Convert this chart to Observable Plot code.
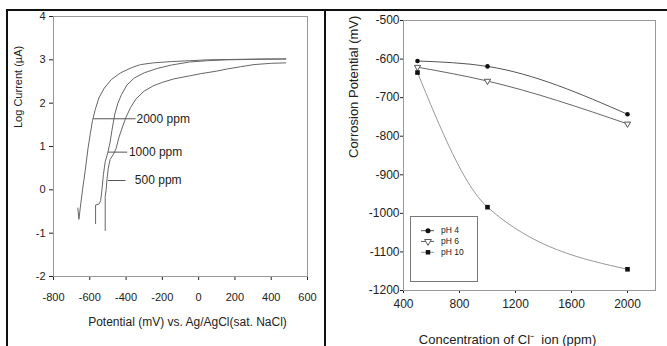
<!DOCTYPE html>
<html><head><meta charset="utf-8">
<script src="https://cdn.jsdelivr.net/npm/d3@7"></script>
<script src="https://cdn.jsdelivr.net/npm/@observablehq/plot@0.6"></script>
<style>
body{margin:0;background:#fff;font-family:Arial,"Liberation Sans",sans-serif;}
#wrap{position:relative;width:667px;height:346px;overflow:hidden;background:#fff;}
.panel{position:absolute;top:0;}
.bline{position:absolute;background:#111;z-index:5;}
#legend{position:absolute;left:410px;top:216px;width:68px;height:66px;border:1px solid #777;box-sizing:border-box;background:#fff;z-index:4;}
</style></head><body>
<div id="wrap">
 <div id="left" class="panel" style="left:0"></div>
 <div id="right" class="panel" style="left:326px"></div>
 <div id="legend"></div>
 <div class="bline" style="left:6px;top:9px;width:661px;height:2px"></div>
 <div class="bline" style="left:6px;top:9px;width:2px;height:337px"></div>
 <div class="bline" style="left:324px;top:9px;width:2px;height:337px"></div>
</div>
<script>
// ---- Left panel data: polarization curves (potential mV, log current µA)
const e2000 = [-666, -660, -652, -640, -625, -610, -597, -585, -570, -550, -520, -480, -430, -370, -320, -250, -150, -50, 50, 200, 350, 480];
const i2000 = [-0.42, -0.68, -0.40, 0.00, 0.45, 0.95, 1.30, 1.60, 1.85, 2.12, 2.35, 2.55, 2.70, 2.82, 2.89, 2.93, 2.96, 2.98, 3.00, 3.01, 3.02, 3.02];
const e1000 = [-568, -568, -550, -540, -533, -525, -515, -500, -488, -478, -462, -445, -425, -395, -355, -300, -230, -150, -50, 50, 150, 300, 480];
const i1000 = [-0.78, -0.35, -0.33, -0.25, 0.00, 0.35, 0.65, 0.87, 1.10, 1.37, 1.75, 2.00, 2.20, 2.42, 2.58, 2.70, 2.80, 2.88, 2.95, 2.98, 3.00, 3.01, 3.02];
const e500 = [-515, -515, -510, -505, -498, -488, -470, -455, -440, -420, -400, -375, -345, -300, -250, -200, -137, -50, 11, 100, 158, 230, 305, 400, 480];
const i500 = [-0.94, -0.15, 0.00, 0.25, 0.50, 0.70, 0.82, 0.95, 1.20, 1.45, 1.68, 1.90, 2.10, 2.28, 2.40, 2.48, 2.56, 2.63, 2.68, 2.74, 2.79, 2.84, 2.89, 2.92, 2.93];
const annLabels = ["2000 ppm", "1000 ppm", "500 ppm"];
const annX1 = [-581, -500, -500];
const annX2 = [-348, -394, -403];
const annTextX = [-348, -390, -357];
const annY = [1.64, 0.87, 0.215];
const xTicksL = [-800, -600, -400, -200, 0, 200, 400, 600];
const yTicksL = [-2, -1, 0, 1, 2, 3, 4];
const xLabelL = "Potential (mV) vs. Ag/AgCl(sat. NaCl)";
const yLabelL = "Log Current (µA)";

// ---- Right panel data: corrosion potential vs chloride concentration
const conc = [500, 1000, 2000];
const ph4 = [-605, -619, -743];
const ph6 = [-621, -657, -768];
const ph10 = [-635, -984, -1145];
const seriesNames = ["pH 4", "pH 6", "pH 10"];
const xTicksR = [400, 800, 1200, 1600, 2000];
const yTicksR = [-500, -600, -700, -800, -900, -1000, -1100, -1200];
const xLabelR = "Concentration of Cl\u207B  ion (ppm)";
const yLabelR = "Corrosion Potential (mV)";

const FONT = "Arial, 'Liberation Sans', sans-serif";
const fmt = d => String(d);

// build tables
const curves = [];
[[e2000, i2000, "2000 ppm"], [e1000, i1000, "1000 ppm"], [e500, i500, "500 ppm"]].forEach(([xs, ys, s]) =>
  xs.forEach((x, k) => curves.push({e: x, i: ys[k], s})));
const ann = annLabels.map((t, k) => ({t, x1: annX1[k], x2: annX2[k], tx: annTextX[k], y: annY[k]}));

const left = Plot.plot({
  width: 325, height: 346,
  marginLeft: 53, marginRight: 18, marginTop: 16, marginBottom: 70,
  style: {background: "transparent", fontFamily: FONT, fontSize: "11px", color: "#222"},
  x: {domain: [-800, 600], ticks: xTicksL, tickFormat: fmt, tickSize: 4, tickPadding: 13, label: null},
  y: {domain: [-2, 4], ticks: yTicksL, tickFormat: fmt, tickSize: 4, tickPadding: 4, label: null},
  marks: [
    Plot.frame({stroke: "#999"}),
    Plot.line(curves, {x: "e", y: "i", z: "s", stroke: "#666", strokeWidth: 1}),
    Plot.link(ann, {x1: "x1", x2: "x2", y1: "y", y2: "y", stroke: "#555", strokeWidth: 1}),
    Plot.text(ann, {x: "tx", y: "y", text: "t", textAnchor: "start", dx: 1, fontSize: 12, fill: "#222"}),
    Plot.text([yLabelL], {text: d => d, frameAnchor: "left", rotate: -90, dx: -35, dy: -18.5, fontSize: 11, fill: "#222"}),
    Plot.text([xLabelL], {text: d => d, frameAnchor: "bottom", dx: 7, dy: 49, fontSize: 12, fill: "#222"})
  ]
});
document.getElementById("left").append(left);

const pts = [];
[[ph4, "pH 4"], [ph6, "pH 6"], [ph10, "pH 10"]].forEach(([vals, s]) =>
  vals.forEach((v, k) => pts.push({c: conc[k], v, s})));

const right = Plot.plot({
  width: 341, height: 346,
  marginLeft: 77, marginRight: 12, marginTop: 20, marginBottom: 56,
  style: {background: "transparent", fontFamily: FONT, fontSize: "12px", color: "#222"},
  x: {domain: [400, 2200], ticks: xTicksR, tickFormat: fmt, tickSize: 3, tickPadding: 6, label: null},
  y: {domain: [-1200, -500], ticks: yTicksR, tickFormat: fmt, tickSize: 3, tickPadding: 1, label: null},
  color: {domain: seriesNames, range: ["#555", "#666", "#999"]},
  marks: [
    Plot.frame({stroke: "#999"}),
    Plot.line(pts, {x: "c", y: "v", z: "s", stroke: "s", strokeWidth: 1, curve: "monotone-x"}),
    Plot.dot(pts, {filter: d => d.s === "pH 4", x: "c", y: "v", r: 2.3, fill: "#111", stroke: "none"}),
    Plot.dot(pts, {filter: d => d.s === "pH 6", x: "c", y: "v", symbol: "triangle", rotate: 180, r: 2.3, fill: "white", stroke: "#555", strokeWidth: 1}),
    Plot.dot(pts, {filter: d => d.s === "pH 10", x: "c", y: "v", symbol: "square", r: 2.6, fill: "#111", stroke: "none"}),
    Plot.text([yLabelR], {text: d => d, frameAnchor: "left", rotate: -90, dx: -50, dy: 2.5, fontSize: 13, fill: "#222"}),
    Plot.text([xLabelR], {text: d => d, frameAnchor: "bottom", dx: -22, dy: 53, fontSize: 13, fill: "#222"})
  ]
});
document.getElementById("right").append(right);

// legend
const lineCols = ["#555", "#666", "#999"];
const syms = [d3.symbolCircle, d3.symbolTriangle, d3.symbolSquare];
const lg = d3.select("#legend").append("svg").attr("width", 66).attr("height", 64)
  .style("font-family", FONT).style("font-size", "8.5px");
seriesNames.forEach((name, k) => {
  const g = lg.append("g").attr("transform", `translate(0,${13.7 + k * 10.8})`);
  g.append("line").attr("x1", 10).attr("x2", 23).attr("stroke", lineCols[k]).attr("stroke-width", 1);
  const p = g.append("path").attr("d", d3.symbol(syms[k], 20)())
    .attr("transform", `translate(17,0)${k === 1 ? " rotate(180)" : ""}`);
  if (k === 1) p.attr("fill", "white").attr("stroke", "#555");
  else p.attr("fill", "#111");
  g.append("text").attr("x", 30).attr("dy", "0.32em").attr("fill", "#222").text(name);
});
</script>
</body></html>
